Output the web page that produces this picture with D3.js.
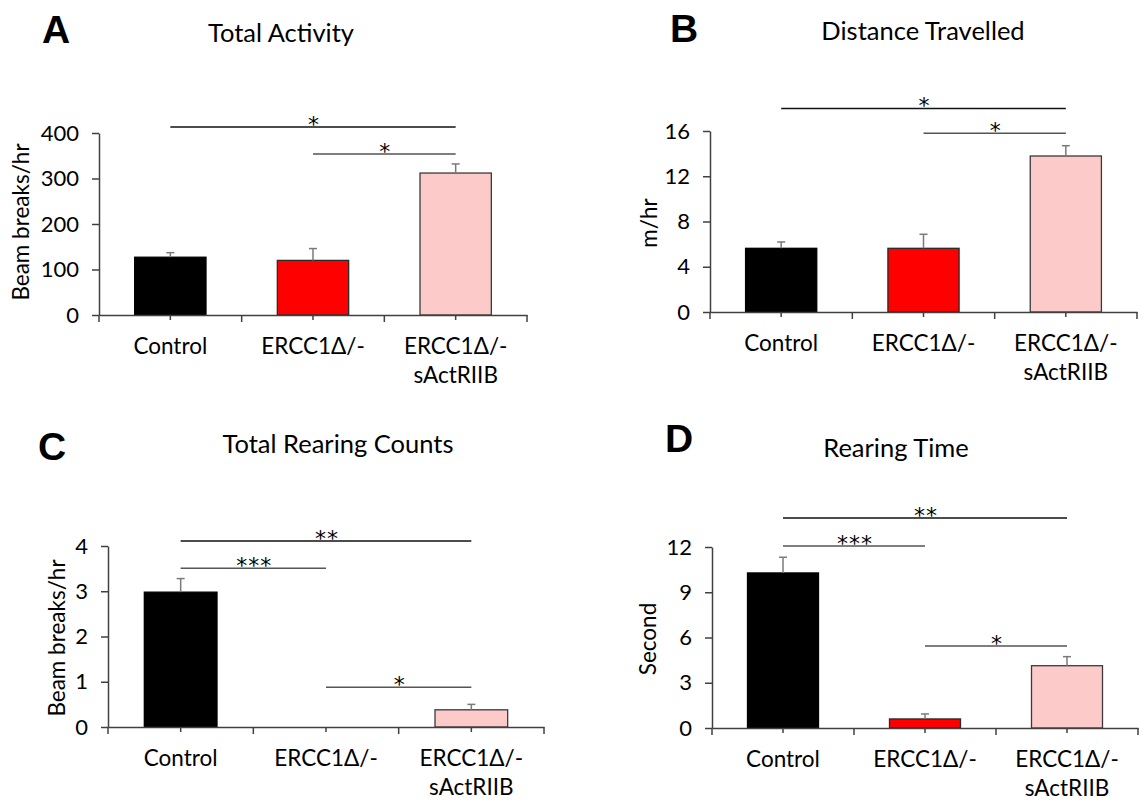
<!DOCTYPE html>
<html>
<head>
<meta charset="utf-8">
<script src="https://cdn.jsdelivr.net/npm/d3@7"></script>
<style>
  body { margin: 0; background: #fff; }
  svg text { font-family: Lato, "Open Sans", "DejaVu Sans", sans-serif; fill: #000; }
</style>
</head>
<body>
<svg id="fig" width="1141" height="801"></svg>
<script>
// Groups shown on every panel (second element = second label line)
const categories = [["Control"], ["ERCC1Δ/-"], ["ERCC1Δ/-", "sActRIIB"]];

// Panel letters, titles and y-axis labels
const panelLetters = ["A", "B", "C", "D"];
const panelTitles = ["Total Activity", "Distance Travelled", "Total Rearing Counts", "Rearing Time"];
const yAxisLabels = ["Beam breaks/hr", "m/hr", "Beam breaks/hr", "Second"];

// Y-axis ticks per panel
const activityTicks = [0, 100, 200, 300, 400];
const distanceTicks = [0, 4, 8, 12, 16];
const rearingCountTicks = [0, 1, 2, 3, 4];
const rearingTimeTicks = [0, 3, 6, 9, 12];

// Means and SEM per group
const activityMeans = [127, 120, 312];
const activitySem = [10, 26, 20];
const distanceMeans = [5.63, 5.63, 13.79];
const distanceSem = [0.56, 1.24, 0.91];
const rearingCountMeans = [2.98, 0, 0.38];
const rearingCountSem = [0.30, 0, 0.12];
const rearingTimeMeans = [10.28, 0.60, 4.13];
const rearingTimeSem = [1.04, 0.33, 0.60];

// Significance brackets: [from group, to group, stars, level in axis units]
const activitySig = [[0, 2, "*", 413], [1, 2, "*", 354]];
const distanceSig = [[0, 2, "*", 18.0], [1, 2, "*", 15.8]];
const rearingCountSig = [[0, 2, "**", 4.11], [0, 1, "***", 3.51], [1, 2, "*", 0.88]];
const rearingTimeSig = [[0, 2, "**", 13.93], [0, 1, "***", 12.07], [1, 2, "*", 5.44]];

// Drawing styles
const barFill = ["#000000", "#ff0000", "#fdcaca"];
const barStroke = ["#000000", "#2a2a2a", "#3a3a3a"];
const sigStroke = ["#111", "#555", "#555"];

// Panel frames in page pixels
const frames = [
  { left: 99,  right: 527,  top: 133, bottom: 315, titleX: 281, titleY: 42,  letterX: 42,  letterY: 43,  labX: 29,  labY: 222 },
  { left: 710, right: 1137, top: 131, bottom: 312, titleX: 923, titleY: 40,  letterX: 670, letterY: 42,  labX: 657, labY: 223 },
  { left: 108, right: 544,  top: 546, bottom: 727, titleX: 338, titleY: 453, letterX: 38,  letterY: 460, labX: 65,  labY: 638 },
  { left: 712, right: 1138, top: 547, bottom: 728, titleX: 896, titleY: 457, letterX: 665, letterY: 452, labX: 656, labY: 639 }
];

const panels = [
  { ticks: activityTicks,     means: activityMeans,     sem: activitySem,     sig: activitySig },
  { ticks: distanceTicks,     means: distanceMeans,     sem: distanceSem,     sig: distanceSig },
  { ticks: rearingCountTicks, means: rearingCountMeans, sem: rearingCountSem, sig: rearingCountSig },
  { ticks: rearingTimeTicks,  means: rearingTimeMeans,  sem: rearingTimeSem,  sig: rearingTimeSig }
];

const svg = d3.select("#fig");
const idx = categories.map((_, i) => i);

panels.forEach((p, k) => {
  const f = frames[k];
  const g = svg.append("g");

  const x = d3.scaleBand().domain(idx).range([f.left, f.right]).paddingInner(0.5).paddingOuter(0.25);
  const y = d3.scaleLinear().domain([p.ticks[0], p.ticks[p.ticks.length - 1]]).range([f.bottom, f.top]);
  const step = x.step();
  const cx = i => x(i) + x.bandwidth() / 2;

  // Panel letter and title
  g.append("text").attr("x", f.letterX).attr("y", f.letterY)
    .style("font-family", "'Liberation Sans', Arial, sans-serif")
    .style("font-weight", "bold").style("font-size", "39px").text(panelLetters[k]);
  g.append("text").attr("x", f.titleX).attr("y", f.titleY)
    .attr("text-anchor", "middle").style("font-size", "25.5px").text(panelTitles[k]);

  // Y-axis label
  g.append("text")
    .attr("transform", `translate(${f.labX},${f.labY}) rotate(-90)`)
    .attr("text-anchor", "middle").style("font-size", "22.5px").text(yAxisLabels[k]);

  // Bars
  g.selectAll("rect.bar").data(p.means).join("rect")
    .attr("class", "bar")
    .attr("x", (d, i) => x(i))
    .attr("width", x.bandwidth())
    .attr("y", d => y(d))
    .attr("height", d => y(0) - y(d))
    .attr("fill", (d, i) => barFill[i])
    .attr("stroke", (d, i) => d > 0 ? barStroke[i] : "none")
    .attr("stroke-width", 1.3);

  // Error bars (upper only)
  p.means.forEach((m, i) => {
    if (p.sem[i] <= 0) return;
    const yt = y(m + p.sem[i]);
    g.append("line").attr("x1", cx(i)).attr("x2", cx(i)).attr("y1", y(m)).attr("y2", yt)
      .attr("stroke", "#7a7a7a").attr("stroke-width", 1.5);
    g.append("line").attr("x1", cx(i) - 4).attr("x2", cx(i) + 4).attr("y1", yt).attr("y2", yt)
      .attr("stroke", "#7a7a7a").attr("stroke-width", 1.5);
  });

  // Y axis
  const ya = g.append("g").attr("transform", `translate(${f.left},0)`)
    .call(d3.axisLeft(y).tickValues(p.ticks).tickFormat(d3.format("d"))
      .tickSize(7).tickPadding(13).tickSizeOuter(0));
  ya.select(".domain").attr("stroke", "#404040").attr("stroke-width", 1.5);
  ya.selectAll(".tick line").attr("stroke", "#404040").attr("stroke-width", 1.5);
  ya.selectAll(".tick text").style("font-size", "22px").attr("fill", "#000");
  ya.attr("font-family", null);

  // X axis: centre ticks from the band scale, boundary ticks between groups
  const xa = g.append("g").attr("transform", `translate(0,${f.bottom})`)
    .call(d3.axisBottom(x).tickSize(5).tickSizeOuter(0).tickFormat(""));
  xa.select(".domain").attr("stroke", "#404040").attr("stroke-width", 1.5);
  xa.selectAll(".tick line").attr("stroke", "#404040").attr("stroke-width", 1.5);
  d3.range(categories.length + 1).forEach(b => {
    const bx = f.left + b * step;
    g.append("line").attr("x1", bx).attr("x2", bx).attr("y1", f.bottom).attr("y2", f.bottom + 7)
      .attr("stroke", "#404040").attr("stroke-width", 1.5);
  });

  // Category labels
  categories.forEach((lines, i) => {
    const t = g.append("text").attr("text-anchor", "middle").style("font-size", "22.5px");
    lines.forEach((ln, j) => {
      t.append("tspan").attr("x", cx(i)).attr("y", f.bottom + 39 + j * 29).text(ln);
    });
  });

  // Significance brackets
  p.sig.forEach(([a, b, stars, level], j) => {
    const ly = y(level);
    g.append("line").attr("x1", cx(a)).attr("x2", cx(b)).attr("y1", ly).attr("y2", ly)
      .attr("stroke", sigStroke[j]).attr("stroke-width", 1.5);
    g.append("text").attr("x", (cx(a) + cx(b)) / 2 + 1).attr("y", ly + 5)
      .attr("text-anchor", "middle")
      .style("font-family", "'DejaVu Sans', sans-serif")
      .style("font-size", "22px").style("letter-spacing", "1px")
      .text(stars);
  });
});
</script>
</body>
</html>
